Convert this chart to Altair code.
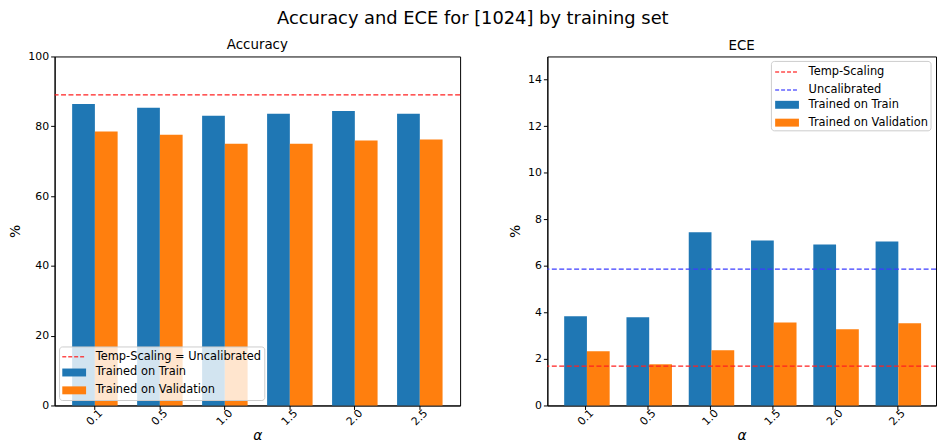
import altair as alt
import pandas as pd

alphas = ["0.1", "0.5", "1.0", "1.5", "2.0", "2.5"]
series = ["Trained on Train", "Trained on Validation"]
series_colors = ["#1f77b4", "#ff7f0e"]

acc_train = [86.4, 85.3, 83.0, 83.6, 84.4, 83.6]
acc_val = [78.5, 77.6, 75.0, 75.0, 75.9, 76.2]
acc_lines = ["Temp-Scaling = Uncalibrated"]
acc_line_values = [89.0]
acc_line_colors = ["#ff2020"]

ece_train = [3.83, 3.79, 7.44, 7.09, 6.92, 7.05]
ece_val = [2.33, 1.77, 2.37, 3.57, 3.28, 3.53]
ece_lines = ["Temp-Scaling", "Uncalibrated"]
ece_line_values = [1.69, 5.86]
ece_line_colors = ["#ff2020", "#3c3cff"]

FONT = "DejaVu Sans"
PLOT_H = 352


def panel(train, val, line_names, line_values, line_colors, title, title_dy, ydomain, yticks,
          width, box, line_leg_xy, bar_leg_xy):
    bars_df = pd.DataFrame({
        "alpha": alphas * 2,
        "label": [series[0]] * len(alphas) + [series[1]] * len(alphas),
        "value": train + val,
    })
    lines_df = pd.DataFrame({"label": line_names, "value": line_values})

    common_leg = dict(title=None, orient="none", padding=0, labelFontSize=11.5, labelFont=FONT,
                      labelColor="black", labelLimit=400, symbolSize=64, rowPadding=5,
                      labelOffset=16)
    bar_legend = alt.Legend(legendX=bar_leg_xy[0], legendY=bar_leg_xy[1],
                            symbolType="M-3,-1H3V1H-3Z", symbolStrokeWidth=0, **common_leg)
    line_legend = alt.Legend(legendX=line_leg_xy[0], legendY=line_leg_xy[1],
                             symbolType="M-3,0H3", symbolDash=[4, 2], symbolStrokeWidth=1.5,
                             symbolFillColor="transparent", symbolOpacity=0.8, **common_leg)

    bars = alt.Chart(bars_df).mark_bar().encode(
        x=alt.X("alpha:N", sort=alphas,
                scale=alt.Scale(paddingInner=0.3, paddingOuter=0.27),
                axis=alt.Axis(title="α", titleFontStyle="italic", titleFontSize=14,
                              titleFontWeight="normal", labelAngle=315, labelAlign="center",
                              labelBaseline="middle", labelPadding=8, labelFontSize=11,
                              tickSize=4, titlePadding=2, labelColor="black",
                              tickColor="black", domainColor="black", titleColor="black")),
        xOffset=alt.XOffset("label:N", sort=series,
                            scale=alt.Scale(domain=series, paddingInner=0, paddingOuter=0)),
        y=alt.Y("value:Q", scale=alt.Scale(domain=ydomain, nice=False),
                axis=alt.Axis(values=yticks, title="%", titleFontSize=14, titleFontWeight="normal",
                              labelFontSize=11, tickSize=4, grid=False, titlePadding=5,
                              labelColor="black", tickColor="black", domainColor="black",
                              titleColor="black")),
        fill=alt.Fill("label:N", scale=alt.Scale(domain=series, range=series_colors),
                      legend=bar_legend),
    )
    rules = alt.Chart(lines_df).mark_rule(strokeDash=[5, 2.5], strokeWidth=1.3).encode(
        y=alt.Y("value:Q"),
        stroke=alt.Stroke("label:N", scale=alt.Scale(domain=line_names, range=line_colors),
                          legend=line_legend),
    )
    frame = alt.Chart(pd.DataFrame({"k": [0]})).mark_rect(
        fill="white", fillOpacity=0.8, stroke="#cccccc", strokeWidth=1, cornerRadius=3
    ).encode(x=alt.value(box[0]), x2=alt.value(box[1]), y=alt.value(box[2]), y2=alt.value(box[3]))
    return alt.layer(bars, rules, frame).properties(
        width=width, height=PLOT_H,
        title=alt.TitleParams(title, fontSize=13.5, fontWeight="normal", offset=4, dy=title_dy,
                              color="black"),
    )


LW = 409
RW = 392
left = panel(acc_train, acc_val, acc_lines, acc_line_values, acc_line_colors,
             "Accuracy", 5, [0, 100], [0, 20, 40, 60, 80, 100], LW,
             (5, 212, PLOT_H - 59, PLOT_H - 5), (14, PLOT_H - 55), (14, PLOT_H - 39))
right = panel(ece_train, ece_val, ece_lines, ece_line_values, ece_line_colors,
              "ECE", 0, [0, 15], [0, 2, 4, 6, 8, 10, 12, 14], RW,
              (RW - 166, RW - 5, 5, 75), (RW - 156, 10), (RW - 156, 43))

chart = alt.hconcat(left, right, spacing=46).resolve_scale(
    fill="independent", stroke="independent"
).properties(
    title=alt.TitleParams("Accuracy and ECE for [1024] by training set", fontSize=18,
                          fontWeight="normal", anchor="middle", offset=6, dy=-4, color="black"),
    padding={"left": 0, "top": 0, "right": 0, "bottom": 0},
).configure(font=FONT).configure_view(stroke="black", strokeWidth=1)

chart.save("out.html", embed_options={"renderer": "svg", "actions": False})
